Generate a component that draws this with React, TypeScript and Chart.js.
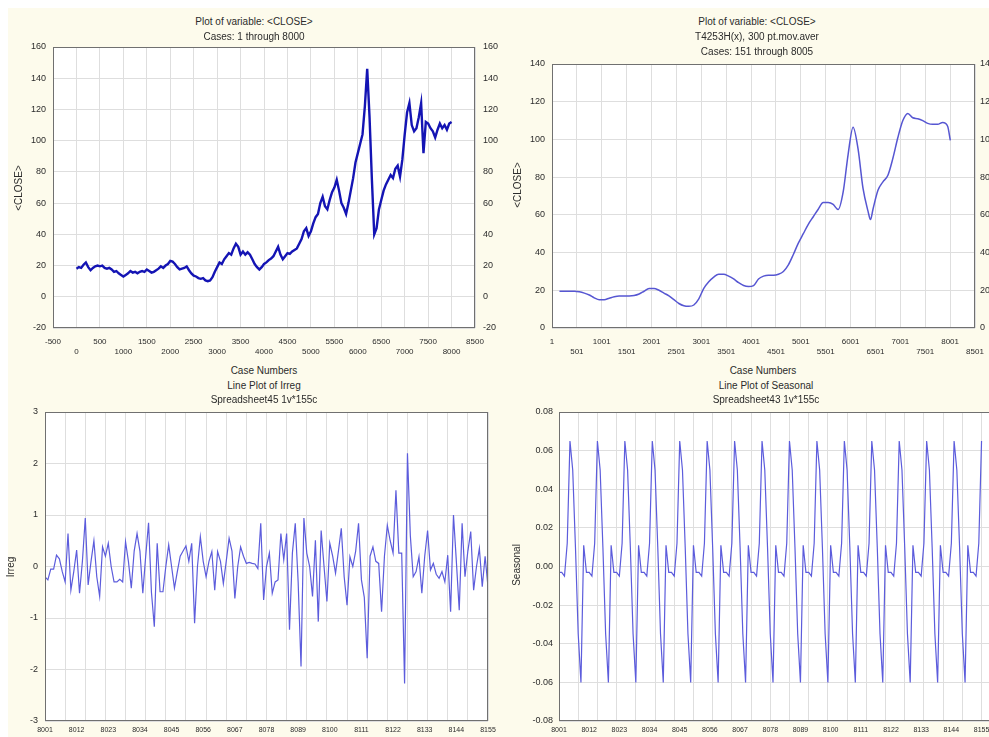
import React, { useEffect, useRef } from "react";
import { Chart, registerables } from "chart.js";

Chart.register(...registerables);

const FONT = '"Liberation Sans", Arial, Helvetica, sans-serif';
const TEXT = "#2b2b2b";
const GRID = "#dedede";
const FRAME = "#707070";
const CREAM = "#fdfbec";

// ---------- Panel 1: raw <CLOSE>, cases 1..8000 (read every 50th case)
const CLOSE_FIRST_CASE = 1;
const CLOSE_CASE_STEP = 50;
const CLOSE_VALUES = [
  18, 19, 18.5, 20.5, 22, 19, 17, 18.5, 19.5, 20,
  19.5, 20, 18.5, 18, 18.5, 17.5, 16, 16.5, 15, 14,
  13, 14, 15, 16.5, 15.5, 16, 15, 16, 16.5, 16,
  17.5, 16.5, 15.5, 16, 17, 18, 19.5, 18.5, 20, 21,
  23, 22.5, 21, 19, 17.5, 18, 18.5, 19.5, 17, 15,
  13.5, 13, 12, 11.5, 12, 10.5, 10, 10.5, 12.5, 16,
  19, 22, 21, 24, 26, 28, 27, 31, 34, 32,
  27, 29, 27, 28.5, 27, 24, 21, 19, 17.5, 19,
  21, 22, 23.5, 24.5, 26, 29, 32, 27, 24, 26,
  28, 27.5, 29, 30, 31, 34, 37, 42, 44, 39,
  42, 47, 51, 53, 60, 64, 58, 56, 62, 67,
  70, 75, 68, 60, 57, 53, 60, 68, 76, 86,
  92, 98, 104, 122, 146, 115, 75, 40, 44, 56,
  62, 68, 72, 75, 78, 76, 82, 84, 77, 88,
  104, 118, 124, 110, 106, 108, 115, 124, 92, 112,
  111, 108, 106, 102, 107, 111, 108, 110, 107, 111,
  112,
];
const CLOSE_X_TICKS = [-500, 0, 500, 1000, 1500, 2000, 2500, 3000, 3500, 4000, 4500, 5000, 5500, 6000, 6500, 7000, 7500, 8000, 8500];
const CLOSE_Y_TICKS = [-20, 0, 20, 40, 60, 80, 100, 120, 140, 160];

// ---------- Panel 2: T4253H smoothed, 300 pt moving average
const MA_CASES = [
  151, 251, 351, 451, 551, 651, 751, 851, 951, 1051, 1151, 1251, 1351, 1451, 1551, 1651, 1751, 1851, 1951, 2051,
  2151, 2251, 2351, 2451, 2551, 2651, 2751, 2851, 2951, 3051, 3151, 3251, 3351, 3451, 3551, 3651, 3751, 3851, 3951, 4051,
  4151, 4251, 4351, 4451, 4551, 4651, 4751, 4851, 4951, 5051, 5151, 5251, 5351, 5451, 5551, 5651, 5751, 5851, 5951, 6051,
  6151, 6251, 6351, 6401, 6451, 6551, 6651, 6751, 6851, 6951, 7051, 7151, 7251, 7351, 7451, 7551, 7651, 7751, 7851, 7951, 8005,
];
const MA_VALUES = [
  19.5, 19.5, 19.5, 19.5, 19.2, 18.5, 17.5, 16, 15, 15, 15.8, 16.6, 17, 17, 17, 17.2, 18, 19.5, 21, 21,
  20, 18.5, 17, 15, 13, 11.8, 11.5, 12.2, 15.5, 21, 24.5, 27, 28.5, 28.5, 27.5, 26, 24, 22.5, 22, 22.5,
  26, 27.5, 28, 28, 28.5, 30, 33.5, 39, 45, 50, 55, 59, 63, 66.5, 66.5, 65.5, 62.8, 72, 92, 106.5,
  95, 74, 62, 57.5, 63, 73, 77.5, 81, 90, 101, 110, 113.8, 111.5, 111, 110, 108.5, 108, 108, 109, 107, 99.5,
];
const MA_X_TICKS = [1, 501, 1001, 1501, 2001, 2501, 3001, 3501, 4001, 4501, 5001, 5501, 6001, 6501, 7001, 7501, 8001, 8501];
const MA_Y_TICKS = [0, 20, 40, 60, 80, 100, 120, 140];

// ---------- Panel 3: Irreg (cases 8001..8155)
const CASE_FIRST = 8001;
const IRREG_VALUES = [
  -0.2, -0.26, -0.05, -0.05, 0.22, 0.15, -0.1, -0.3, 0.64, -0.46,
  -0.1, 0.32, -0.52, 0.1, 0.94, -0.36, 0.1, 0.5, -0.2, -0.58,
  0.38, 0.2, 0.45, 0.0, -0.3, -0.3, -0.25, -0.3, 0.48, 0.1,
  -0.42, 0.3, 0.64, 0.3, -0.52, 0.2, 0.85, -0.5, -1.17, 0.45,
  -0.49, -0.49, 0.0, 0.42, 0.0, -0.42, -0.1, 0.2, 0.3, 0.4,
  0.1, 0.45, -1.1, 0.0, 0.58, 0.1, -0.2, 0.1, 0.29, -0.46,
  0.29, 0.1, -0.33, 0.1, 0.55, 0.3, -0.62, 0.0, 0.38, 0.2,
  0.06, 0.08, 0.06, 0.05, -0.04, 0.84, -0.65, 0.0, 0.26, -0.52,
  -0.3, -0.26, 0.64, 0.13, 0.64, -1.23, 0.26, 0.84, -0.3, -1.94,
  0.94, 0.26, 0.0, -0.58, 0.51, -1.07, 0.7, 0.0, -0.68, 0.45,
  0.2, -0.13, 0.3, 0.74, -0.2, -0.75, 0.19, 0.0, 0.3, 0.84,
  -0.26, -0.6, -1.78, 0.2, 0.38, 0.1, 0.06, -0.88, 0.2, 0.8,
  0.5, 0.26, 1.48, 0.26, 0.26, -2.27, 2.2, 0.6, -0.2, -0.1,
  0.19, -0.52, 0.2, 0.7, -0.07, 0.06, -0.15, -0.23, -0.1, -0.3,
  0.22, -0.88, 1.0, 0.1, -0.85, 0.84, -0.2, 0.3, 0.68, -0.46,
  0.0, 0.35, -0.39, 0.2, -0.4,
];
const CASE_LABEL_TICKS = [8001, 8012, 8023, 8034, 8045, 8056, 8067, 8078, 8089, 8100, 8111, 8122, 8133, 8144, 8155];
const CASE_GRID_TICKS = [8001, 8008, 8015, 8022, 8029, 8036, 8043, 8050, 8057, 8064, 8071, 8078, 8085, 8092, 8099, 8106, 8113, 8120, 8127, 8134, 8141, 8148, 8155];
const IRREG_Y_TICKS = [-3, -2, -1, 0, 1, 2, 3];

// ---------- Panel 4: Seasonal (cases 8001..8155)
const SEASONAL_VALUES = [
  -0.003, -0.003, -0.005, 0.012, 0.065, 0.05, 0.01, -0.035, -0.06, 0.011,
  -0.003, -0.003, -0.005, 0.012, 0.065, 0.05, 0.01, -0.035, -0.06, 0.011,
  -0.003, -0.003, -0.005, 0.012, 0.065, 0.05, 0.01, -0.035, -0.06, 0.011,
  -0.003, -0.003, -0.005, 0.012, 0.065, 0.05, 0.01, -0.035, -0.06, 0.011,
  -0.003, -0.003, -0.005, 0.012, 0.065, 0.05, 0.01, -0.035, -0.06, 0.011,
  -0.003, -0.003, -0.005, 0.012, 0.065, 0.05, 0.01, -0.035, -0.06, 0.011,
  -0.003, -0.003, -0.005, 0.012, 0.065, 0.05, 0.01, -0.035, -0.06, 0.011,
  -0.003, -0.003, -0.005, 0.012, 0.065, 0.05, 0.01, -0.035, -0.06, 0.011,
  -0.003, -0.003, -0.005, 0.012, 0.065, 0.05, 0.01, -0.035, -0.06, 0.011,
  -0.003, -0.003, -0.005, 0.012, 0.065, 0.05, 0.01, -0.035, -0.06, 0.011,
  -0.003, -0.003, -0.005, 0.012, 0.065, 0.05, 0.01, -0.035, -0.06, 0.011,
  -0.003, -0.003, -0.005, 0.012, 0.065, 0.05, 0.01, -0.035, -0.06, 0.011,
  -0.003, -0.003, -0.005, 0.012, 0.065, 0.05, 0.01, -0.035, -0.06, 0.011,
  -0.003, -0.003, -0.005, 0.012, 0.065, 0.05, 0.01, -0.035, -0.06, 0.011,
  -0.003, -0.003, -0.005, 0.012, 0.065, 0.05, 0.01, -0.035, -0.06, 0.011,
  -0.003, -0.003, -0.005, 0.012, 0.065,
];
const SEASONAL_Y_TICKS = [-0.08, -0.06, -0.04, -0.02, 0, 0.02, 0.04, 0.06, 0.08];

type Pt = { x: number; y: number };

type PanelCfg = {
  left: number; top: number; width: number; height: number;
  padTop: number; padRight: number;
  yLeftW: number; yRightW?: number; xH: number;
  xMin: number; xMax: number; yMin: number; yMax: number;
  xTicks: number[]; xGrid?: number[]; yTicks: number[];
  xLabel: (v: number, i: number) => string | string[];
  yLabel: (v: number) => string;
  yPad: number; yRightPad?: number; xPad: number;
  xFont: number; yFont: number;
  points: Pt[];
  color: string; lineWidth: number; monotone?: boolean;
};

const framePlugin = {
  id: "plotFrame",
  beforeDraw(chart: any) {
    const { ctx, chartArea: a } = chart;
    ctx.save();
    ctx.fillStyle = "#ffffff";
    ctx.fillRect(a.left, a.top, a.right - a.left, a.bottom - a.top);
    ctx.restore();
  },
  afterDraw(chart: any) {
    const { ctx, chartArea: a } = chart;
    ctx.save();
    ctx.strokeStyle = FRAME;
    ctx.lineWidth = 1;
    ctx.strokeRect(Math.round(a.left) + 0.5, Math.round(a.top) + 0.5, Math.round(a.right - a.left) - 1, Math.round(a.bottom - a.top) - 1);
    ctx.restore();
  },
};

function buildConfig(cfg: PanelCfg): any {
  const tickSet = (arr: number[]) => (s: any) => {
    s.ticks = arr.map((v) => ({ value: v }));
  };
  const scales: any = {
    x: {
      type: "linear",
      position: "bottom",
      min: cfg.xMin,
      max: cfg.xMax,
      afterBuildTicks: tickSet(cfg.xTicks),
      afterFit: (s: any) => {
        s.height = cfg.xH;
        s.paddingLeft = 0;
        s.paddingRight = 0;
      },
      grid: { display: !cfg.xGrid, color: GRID, lineWidth: 1, drawTicks: false },
      border: { display: false },
      ticks: {
        autoSkip: false,
        maxRotation: 0,
        minRotation: 0,
        padding: cfg.xPad,
        color: TEXT,
        font: { family: FONT, size: cfg.xFont, lineHeight: 1.2 },
        callback: (v: any, i: number) => cfg.xLabel(Number(v), i),
      },
    },
    y: {
      type: "linear",
      position: "left",
      min: cfg.yMin,
      max: cfg.yMax,
      afterBuildTicks: tickSet(cfg.yTicks),
      afterFit: (s: any) => {
        s.width = cfg.yLeftW;
        s.paddingTop = 0;
        s.paddingBottom = 0;
      },
      grid: { color: GRID, lineWidth: 1, drawTicks: false },
      border: { display: false },
      ticks: {
        padding: cfg.yPad,
        color: TEXT,
        font: { family: FONT, size: cfg.yFont },
        callback: (v: any) => cfg.yLabel(Number(v)),
      },
    },
  };
  if (cfg.xGrid) {
    scales.xg = {
      type: "linear",
      position: "bottom",
      min: cfg.xMin,
      max: cfg.xMax,
      afterBuildTicks: tickSet(cfg.xGrid),
      afterFit: (s: any) => {
        s.height = 0;
        s.paddingLeft = 0;
        s.paddingRight = 0;
      },
      grid: { color: GRID, lineWidth: 1, drawTicks: false },
      border: { display: false },
      ticks: { display: false },
    };
  }
  if (cfg.yRightW) {
    scales.y2 = {
      type: "linear",
      position: "right",
      min: cfg.yMin,
      max: cfg.yMax,
      afterBuildTicks: tickSet(cfg.yTicks),
      afterFit: (s: any) => {
        s.width = cfg.yRightW;
        s.paddingTop = 0;
        s.paddingBottom = 0;
      },
      grid: { display: false, drawTicks: false },
      border: { display: false },
      ticks: {
        padding: cfg.yRightPad ?? 6,
        color: TEXT,
        font: { family: FONT, size: cfg.yFont },
        callback: (v: any) => cfg.yLabel(Number(v)),
      },
    };
  }
  return {
    type: "line",
    data: {
      datasets: [
        {
          data: cfg.points,
          borderColor: cfg.color,
          borderWidth: cfg.lineWidth,
          pointRadius: 0,
          fill: false,
          tension: cfg.monotone ? 0.4 : 0,
          cubicInterpolationMode: cfg.monotone ? "monotone" : "default",
          yAxisID: "y",
          xAxisID: "x",
        },
      ],
    },
    options: {
      animation: false,
      responsive: false,
      maintainAspectRatio: false,
      events: [],
      layout: { padding: { top: cfg.padTop, right: cfg.padRight, left: 0, bottom: 0 } },
      plugins: { legend: { display: false }, tooltip: { enabled: false }, title: { display: false } },
      scales,
    },
    plugins: [framePlugin],
  };
}

function LinePanel({ cfg }: { cfg: PanelCfg }) {
  const ref = useRef<HTMLCanvasElement>(null);
  useEffect(() => {
    if (!ref.current) return;
    const chart = new Chart(ref.current, buildConfig(cfg));
    return () => chart.destroy();
  }, []);
  return (
    <canvas
      ref={ref}
      width={cfg.width}
      height={cfg.height}
      style={{ position: "absolute", left: cfg.left, top: cfg.top, width: cfg.width, height: cfg.height }}
    />
  );
}

function T({ x, y, children, rot }: { x: number; y: number; children: React.ReactNode; rot?: boolean }) {
  return (
    <div
      style={{
        position: "absolute",
        left: x,
        top: y,
        transform: `translate(-50%, -50%)${rot ? " rotate(-90deg)" : ""}`,
        fontFamily: FONT,
        fontSize: 10,
        lineHeight: "12px",
        color: TEXT,
        whiteSpace: "nowrap",
      }}
    >
      {children}
    </div>
  );
}

const twoRows = (v: number, i: number) => (i % 2 === 0 ? [String(v)] : ["", String(v)]);
const intLabel = (v: number) => String(Math.round(v));
const seasonalLabel = (v: number) => {
  const s = v.toFixed(2);
  return s === "-0.00" ? "0.00" : s;
};

const closePts: Pt[] = CLOSE_VALUES.map((y, i) => ({ x: CLOSE_FIRST_CASE + i * CLOSE_CASE_STEP, y }));
const maPts: Pt[] = MA_CASES.map((c, i) => ({ x: c, y: MA_VALUES[i] }));
const irregPts: Pt[] = IRREG_VALUES.map((y, i) => ({ x: CASE_FIRST + i, y }));
const seasonalPts: Pt[] = SEASONAL_VALUES.map((y, i) => ({ x: CASE_FIRST + i, y }));

const P1: PanelCfg = {
  left: 10, top: 40, width: 490, height: 322,
  padTop: 7, padRight: 0, yLeftW: 43, yRightW: 25, xH: 34,
  xMin: -500, xMax: 8500, yMin: -20, yMax: 160,
  xTicks: CLOSE_X_TICKS, yTicks: CLOSE_Y_TICKS,
  xLabel: twoRows, yLabel: intLabel,
  yPad: 7, yRightPad: 8, xPad: 9, xFont: 8, yFont: 9,
  points: closePts, color: "#1414b4", lineWidth: 2.4,
};

const P2: PanelCfg = {
  left: 500, top: 56, width: 510, height: 306,
  padTop: 8, padRight: 0, yLeftW: 52, yRightW: 35, xH: 34,
  xMin: 1, xMax: 8501, yMin: 0, yMax: 140,
  xTicks: MA_X_TICKS, yTicks: MA_Y_TICKS,
  xLabel: twoRows, yLabel: intLabel,
  yPad: 7, yRightPad: 5, xPad: 9, xFont: 8, yFont: 9,
  points: maPts, color: "#5656d2", lineWidth: 1.5, monotone: true,
};

const P3: PanelCfg = {
  left: 10, top: 405, width: 490, height: 332,
  padTop: 7, padRight: 12, yLeftW: 35, xH: 16,
  xMin: 8001, xMax: 8155, yMin: -3, yMax: 3,
  xTicks: CASE_LABEL_TICKS, xGrid: CASE_GRID_TICKS, yTicks: IRREG_Y_TICKS,
  xLabel: (v) => String(v), yLabel: intLabel,
  yPad: 7, xPad: 5, xFont: 7, yFont: 9,
  points: irregPts, color: "#5c5cdc", lineWidth: 1.2,
};

const P4: PanelCfg = {
  left: 505, top: 405, width: 515, height: 332,
  padTop: 7, padRight: 22, yLeftW: 54, xH: 16,
  xMin: 8001, xMax: 8161, yMin: -0.08, yMax: 0.08,
  xTicks: CASE_LABEL_TICKS, xGrid: CASE_GRID_TICKS, yTicks: SEASONAL_Y_TICKS,
  xLabel: (v) => String(v), yLabel: seasonalLabel,
  yPad: 6, xPad: 5, xFont: 7, yFont: 9,
  points: seasonalPts, color: "#5c5cdc", lineWidth: 1.2,
};

export default function App() {
  return (
    <div style={{ position: "fixed", left: 0, top: 0, width: 989, height: 737, overflow: "hidden", background: "#ffffff" }}>
      <div style={{ position: "absolute", left: 8, top: 8, width: 981, height: 729, background: CREAM }} />
      <LinePanel cfg={P1} />
      <LinePanel cfg={P2} />
      <LinePanel cfg={P3} />
      <LinePanel cfg={P4} />

      <T x={254} y={22}>Plot of variable: &lt;CLOSE&gt;</T>
      <T x={254} y={37}>Cases: 1 through 8000</T>

      <T x={757} y={22}>Plot of variable: &lt;CLOSE&gt;</T>
      <T x={757} y={37}>T4253H(x), 300 pt.mov.aver</T>
      <T x={757} y={52}>Cases: 151 through 8005</T>

      <T x={19} y={188} rot>&lt;CLOSE&gt;</T>
      <T x={518} y={185} rot>&lt;CLOSE&gt;</T>

      <T x={264} y={371}>Case Numbers</T>
      <T x={763} y={371}>Case Numbers</T>

      <T x={264} y={386}>Line Plot of Irreg</T>
      <T x={264} y={400}>Spreadsheet45 1v*155c</T>
      <T x={766} y={386}>Line Plot of Seasonal</T>
      <T x={766} y={400}>Spreadsheet43 1v*155c</T>

      <T x={11} y={567} rot>Irreg</T>
      <T x={517} y={565} rot>Seasonal</T>
    </div>
  );
}
